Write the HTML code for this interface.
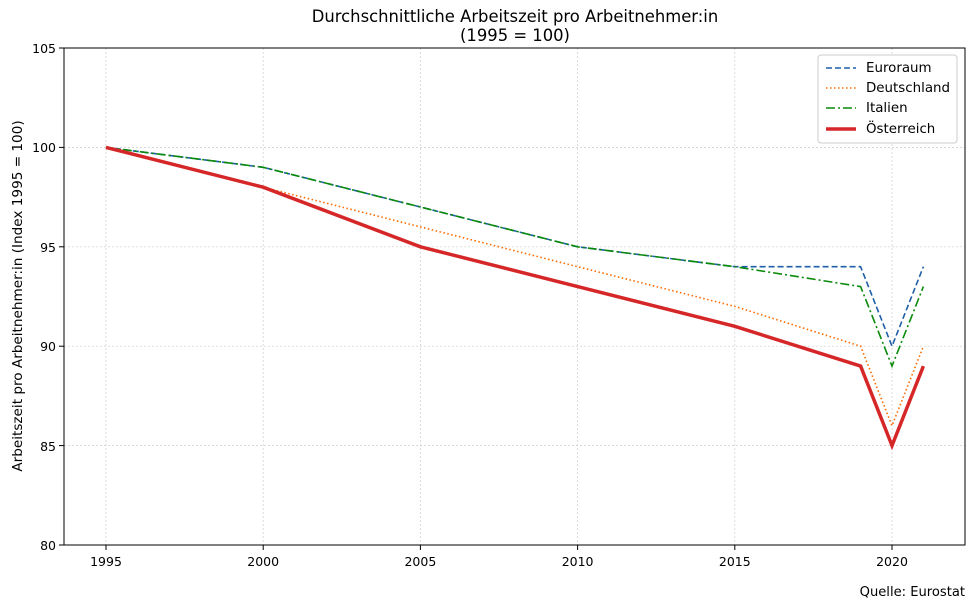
<!DOCTYPE html>
<html><head><meta charset="utf-8"><style>
body{margin:0;background:#fff;}
svg{display:block;font-family:"DejaVu Sans","Liberation Sans",sans-serif;}
</style></head><body>
<svg width="980" height="607" viewBox="0 0 980 607">
<text x="515" y="22" font-size="16.4" text-anchor="middle">Durchschnittliche Arbeitszeit pro Arbeitnehmer:in</text>
<text x="515" y="41" font-size="16.4" text-anchor="middle">(1995 = 100)</text>
<g stroke="#ccc" stroke-width="0.7" stroke-dasharray="2,2">
<line x1="106" y1="48" x2="106" y2="545"/><line x1="263.2" y1="48" x2="263.2" y2="545"/>
<line x1="420.4" y1="48" x2="420.4" y2="545"/><line x1="577.6" y1="48" x2="577.6" y2="545"/>
<line x1="734.8" y1="48" x2="734.8" y2="545"/><line x1="892" y1="48" x2="892" y2="545"/>
<line x1="64" y1="147.4" x2="965" y2="147.4"/><line x1="64" y1="246.8" x2="965" y2="246.8"/>
<line x1="64" y1="346.2" x2="965" y2="346.2"/><line x1="64" y1="445.6" x2="965" y2="445.6"/>
</g>
<rect x="64" y="48" width="901" height="497" fill="none" stroke="#000" stroke-width="1"/>
<g stroke="#000" stroke-width="1">
<line x1="106" y1="545" x2="106" y2="550"/><line x1="263.2" y1="545" x2="263.2" y2="550"/>
<line x1="420.4" y1="545" x2="420.4" y2="550"/><line x1="577.6" y1="545" x2="577.6" y2="550"/>
<line x1="734.8" y1="545" x2="734.8" y2="550"/><line x1="892" y1="545" x2="892" y2="550"/>
<line x1="59" y1="48" x2="64" y2="48"/><line x1="59" y1="147.4" x2="64" y2="147.4"/>
<line x1="59" y1="246.8" x2="64" y2="246.8"/><line x1="59" y1="346.2" x2="64" y2="346.2"/>
<line x1="59" y1="445.6" x2="64" y2="445.6"/><line x1="59" y1="545" x2="64" y2="545"/>
</g>
<g font-size="12.5" text-anchor="middle">
<text x="106" y="566">1995</text><text x="263.2" y="566">2000</text><text x="420.4" y="566">2005</text>
<text x="577.6" y="566">2010</text><text x="734.8" y="566">2015</text><text x="892" y="566">2020</text>
</g>
<g font-size="12.5" text-anchor="end">
<text x="56" y="53">105</text><text x="56" y="152">100</text><text x="56" y="252">95</text>
<text x="56" y="351">90</text><text x="56" y="451">85</text><text x="56" y="550">80</text>
</g>
<text transform="translate(22,296) rotate(-90)" font-size="13.6" text-anchor="middle">Arbeitszeit pro Arbeitnehmer:in (Index 1995 = 100)</text>
<text x="965" y="596" font-size="13.1" text-anchor="end">Quelle: Eurostat</text>
<g fill="none">
<polyline stroke="#1f5fa8" stroke-width="1.6" stroke-dasharray="6,3" points="106,147.4 263.2,167.3 420.4,207 577.6,246.8 734.8,266.7 860.6,266.7 892,346.2 923.4,266.7"/>
<polyline stroke="#ff6a00" stroke-width="1.6" stroke-dasharray="1.5,2.5" points="106,147.4 263.2,187.2 420.4,226.9 577.6,266.7 734.8,306.4 860.6,346.2 892,425.7 923.4,346.2"/>
<polyline stroke="#0a8a0a" stroke-width="1.6" stroke-dasharray="9,3,2,3" points="106,147.4 263.2,167.3 420.4,207 577.6,246.8 734.8,266.7 860.6,286.6 892,366.1 923.4,286.6"/>
<polyline stroke="#d62728" stroke-width="3.5" points="106,147.4 263.2,187.2 420.4,246.8 577.6,286.6 734.8,326.3 860.6,366.1 892,445.6 923.4,366.1"/>
</g>
<rect x="818" y="55" width="139" height="88" rx="3" fill="#fff" stroke="#ccc"/>
<g fill="none">
<line x1="826" y1="68" x2="856" y2="68" stroke="#1f5fa8" stroke-width="1.6" stroke-dasharray="6,3"/>
<line x1="826" y1="88" x2="856" y2="88" stroke="#ff6a00" stroke-width="1.6" stroke-dasharray="1.5,2.5"/>
<line x1="826" y1="108" x2="856" y2="108" stroke="#0a8a0a" stroke-width="1.6" stroke-dasharray="9,3,2,3"/>
<line x1="826" y1="129" x2="856" y2="129" stroke="#d62728" stroke-width="3.5"/>
</g>
<g font-size="13.4">
<text x="866" y="72">Euroraum</text><text x="866" y="92">Deutschland</text>
<text x="866" y="112">Italien</text><text x="866" y="133">Österreich</text>
</g>
</svg>
</body></html>
